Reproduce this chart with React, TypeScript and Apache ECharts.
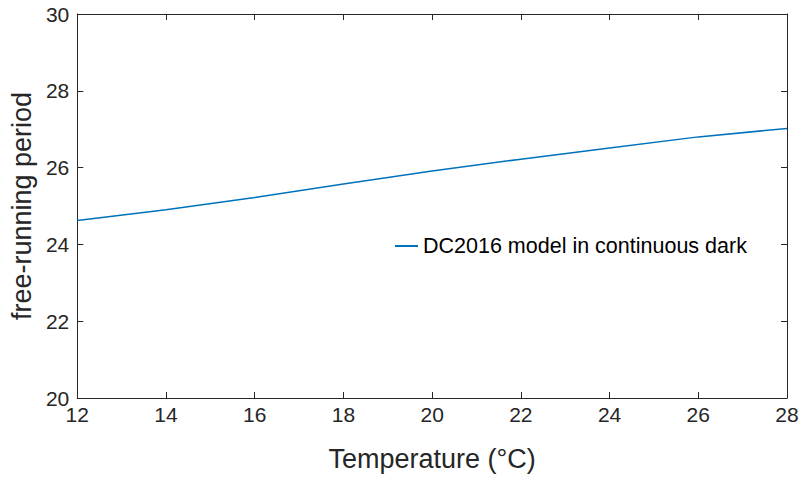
import React, { useEffect, useRef } from "react";
import * as echarts from "echarts";

const temperatures = [12, 14, 16, 18, 20, 22, 24, 26, 28];
const periods = [24.62, 24.9, 25.22, 25.57, 25.91, 26.22, 26.51, 26.8, 27.02];
const seriesName = "DC2016 model in continuous dark";
const xTitle = "Temperature (°C)";
const yTitle = "free-running period";

const FONT = "'Liberation Sans', Arial, Helvetica, sans-serif";
const AX = "#262626";

export default function App() {
  const ref = useRef<HTMLDivElement>(null);
  useEffect(() => {
    document.body.style.margin = "0";
    const chart = echarts.init(ref.current!, null, { renderer: "svg" });
    const mirrorAxis = {
      axisLine: { show: true, lineStyle: { color: AX, width: 1 } },
      axisTick: { show: true, inside: true, length: 6, lineStyle: { color: AX } },
      axisLabel: { show: false },
      splitLine: { show: false },
    };
    chart.setOption({
      animation: false,
      backgroundColor: "#ffffff",
      grid: { left: 75, right: 16, top: 14, bottom: 85, containLabel: false },
      legend: {
        left: 390,
        top: 230,
        itemWidth: 23,
        itemHeight: 2,
        icon: "rect",
        textStyle: { fontFamily: FONT, fontSize: 21.5, color: "#000" },
        data: [seriesName],
      },
      xAxis: [
        {
          type: "value",
          min: 12,
          max: 28,
          interval: 2,
          position: "bottom",
          name: xTitle,
          nameLocation: "middle",
          nameGap: 47,
          nameTextStyle: { fontFamily: FONT, fontSize: 27, color: AX },
          axisLine: { show: true, onZero: false, lineStyle: { color: AX, width: 1 } },
          axisTick: { show: true, inside: true, length: 6, lineStyle: { color: AX } },
          axisLabel: { fontFamily: FONT, fontSize: 21, color: AX, margin: 6 },
          splitLine: { show: false },
        },
        { type: "value", min: 12, max: 28, interval: 2, position: "top", ...mirrorAxis },
      ],
      yAxis: [
        {
          type: "value",
          min: 20,
          max: 30,
          interval: 2,
          position: "left",
          name: yTitle,
          nameLocation: "middle",
          nameGap: 34,
          nameTextStyle: { fontFamily: FONT, fontSize: 27, color: AX },
          axisLine: { show: true, onZero: false, lineStyle: { color: AX, width: 1 } },
          axisTick: { show: true, inside: true, length: 6, lineStyle: { color: AX } },
          axisLabel: { fontFamily: FONT, fontSize: 21, color: AX, margin: 8 },
          splitLine: { show: false },
        },
        { type: "value", min: 20, max: 30, interval: 2, position: "right", ...mirrorAxis },
      ],
      series: [
        {
          name: seriesName,
          type: "line",
          data: temperatures.map((t, i) => [t, periods[i]]),
          smooth: false,
          showSymbol: false,
          symbol: "none",
          lineStyle: { color: "#0072BD", width: 1.5 },
          itemStyle: { color: "#0072BD" },
        },
      ],
    });
    return () => chart.dispose();
  }, []);
  return (
    <div
      ref={ref}
      style={{ position: "fixed", left: 0, top: 0, width: 803, height: 483, background: "#fff" }}
    />
  );
}
